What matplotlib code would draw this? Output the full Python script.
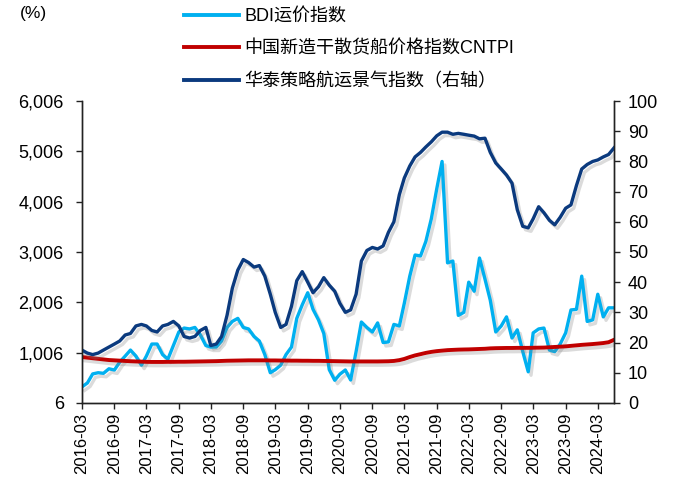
import numpy as np
import pandas as pd
import matplotlib
matplotlib.use("Agg")
import matplotlib.pyplot as plt
import matplotlib.patheffects as pe
from matplotlib.lines import Line2D
from matplotlib.ticker import FuncFormatter

plt.rcParams['font.family'] = ['Liberation Sans', 'Noto Sans CJK SC', 'DejaVu Sans']

# monthly, 2016-03 .. 2024-06
months = pd.date_range('2016-03-01', periods=100, freq='MS')

bdi = [324, 402, 582, 606, 594, 684, 660, 816, 936, 1056,
       936, 756, 936, 1176, 1176, 966, 876, 1146, 1416, 1494,
       1476, 1506, 1356, 1146, 1116, 1116, 1236, 1506, 1626, 1686,
       1506, 1476, 1326, 1236, 966, 606, 666, 756, 966, 1116,
       1686, 1956, 2196, 1866, 1656, 1386, 666, 456, 576, 660,
       462, 1026, 1614, 1506, 1416, 1596, 1206, 1218, 1566, 1536,
       1986, 2526, 2946, 2928, 3216, 3666, 4266, 4806, 2790, 2826,
       1746, 1806, 2406, 2226, 2886, 2466, 2046, 1416, 1536, 1716,
       1296, 1458, 1026, 624, 1398, 1476, 1494, 1056, 1026, 1176,
       1398, 1854, 1866, 2526, 1626, 1656, 2166, 1716, 1896, 1896]

cntpi = [918, 906, 894, 882, 870, 858, 852, 846, 840, 834,
         830, 826, 822, 820, 820, 820, 822, 822, 824, 824,
         826, 828, 830, 832, 834, 836, 840, 844, 846, 848,
         850, 852, 852, 852, 852, 850, 850, 848, 848, 846,
         846, 844, 844, 842, 842, 840, 838, 836, 834, 832,
         830, 830, 830, 830, 830, 830, 832, 834, 840, 856,
         880, 918, 950, 975, 1000, 1020, 1035, 1045, 1055, 1060,
         1065, 1068, 1070, 1074, 1078, 1082, 1090, 1094, 1096, 1098,
         1098, 1100, 1100, 1100, 1102, 1104, 1106, 1112, 1118, 1124,
         1130, 1140, 1150, 1160, 1168, 1176, 1185, 1196, 1212, 1260]

hts = [17.5, 16.5, 16, 16.5, 17.5, 18.5, 19.5, 20.5, 22.5, 23,
       25.5, 26, 25.5, 24, 23.5, 25.5, 26, 27, 25.5, 22,
       21.5, 22, 24, 25, 19, 19.5, 22, 29, 38, 44,
       47.5, 46.5, 45, 45.5, 42, 36, 30, 25, 26, 32,
       40.5, 43.5, 40, 36.5, 38.5, 41.5, 39, 37, 33, 30,
       30.8, 36, 47, 50.5, 51.5, 51, 52, 56.5, 60, 69,
       74.5, 78.5, 81.5, 83, 84.8, 86.5, 88.5, 89.7, 89.7, 89,
       89.3, 89, 88.7, 88.4, 87.5, 87.7, 83, 79.5, 77.5, 75.5,
       72.8, 64, 58.5, 58, 61, 65, 63, 60.5, 59, 61.5,
       64.5, 65.6, 72, 77.5, 79, 80, 80.5, 81.5, 82.3, 84.5]

labels = ['BDI运价指数', '中国新造干散货船价格指数CNTPI', '华泰策略航运景气指数（右轴）']
colors = ['#00B0F0', '#C00000', '#0B3A7E']

fig = plt.figure(figsize=(6.77, 4.86), dpi=100)
ax = fig.add_axes([0.121, 0.171, 0.786, 0.621])
ax2 = ax.twinx()

shadow = [pe.SimpleLineShadow(offset=(2, -2.5), shadow_color='#808080', alpha=0.28),
          pe.Normal()]

ax.plot(months, bdi, color=colors[0], lw=2.4, path_effects=shadow)
ax.plot(months, cntpi, color=colors[1], lw=2.8, path_effects=shadow)
ax2.plot(months, hts, color=colors[2], lw=2.4, path_effects=shadow)

ax.set_xlim(months[0], months[-1])
ax.set_ylim(6, 6006)
ax.set_yticks(np.arange(6, 6007, 1000))
ax.yaxis.set_major_formatter(FuncFormatter(lambda v, p: f'{int(round(v)):,}'))
ax2.set_ylim(0, 100)
ax2.set_yticks(np.arange(0, 101, 10))

xt = pd.date_range('2016-03-01', '2024-03-01', freq='6MS')
ax.set_xticks(xt)
ax.set_xticklabels([d.strftime('%Y-%m') for d in xt], rotation=90)

for a in (ax, ax2):
    a.spines['top'].set_visible(False)
    for s in a.spines.values():
        s.set_linewidth(1.0)
        s.set_color('#222222')
    a.tick_params(labelsize=13, length=4, width=1.0, color='#222222')
ax.tick_params(axis='y', pad=9)
ax2.tick_params(axis='y', pad=6)
ax.tick_params(axis='x', labelsize=12, pad=3)

fig.text(0.03, 0.973, '(%)', fontsize=12.5, ha='left', va='center')

handles = [Line2D([], [], color=c, lw=2.8) for c in colors]
fig.legend(handles, labels, loc='upper left', bbox_to_anchor=(0.256, 1.006),
           frameon=False, fontsize=13, handlelength=3.05, labelspacing=0.85,
           handletextpad=0.3, borderaxespad=0.2)

fig.savefig('out.png', dpi=100)
